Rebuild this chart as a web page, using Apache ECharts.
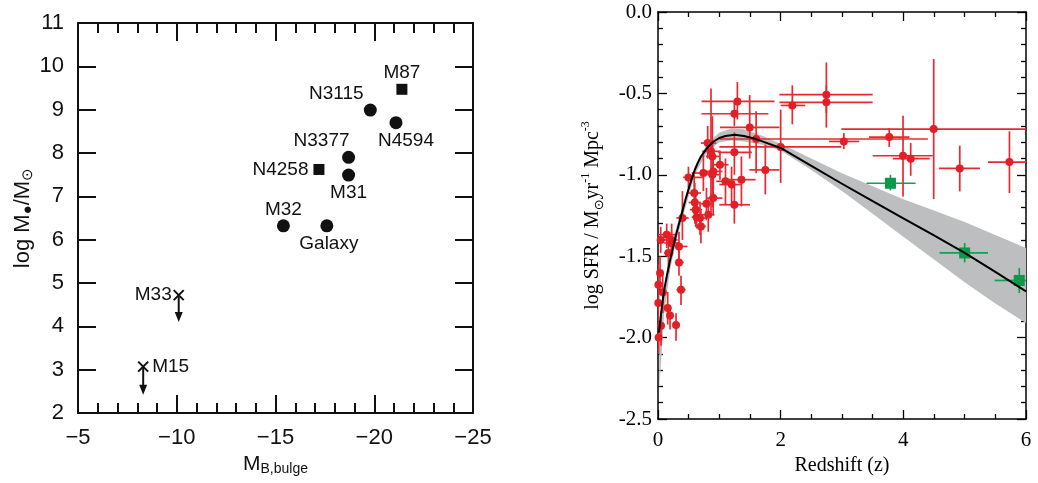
<!DOCTYPE html>
<html>
<head>
<meta charset="utf-8">
<title>Black hole mass vs bulge magnitude / cosmic star formation history</title>
<script src="https://cdn.jsdelivr.net/npm/echarts@6/dist/echarts.min.js"></script>
<style>
  html, body { margin: 0; padding: 0; background: #fff; }
  #chart { width: 1038px; height: 483px; }
</style>
</head>
<body>
<div id="chart"></div>
<script>
// ---- left panel: black hole mass vs bulge magnitude ----
const bhNames = ['M87', 'N3115', 'N4594', 'N3377', 'M31', 'N4258', 'M32', 'Galaxy']
const bhMag = [-21.4, -19.8, -21.1, -18.7, -18.7, -17.2, -15.4, -17.6]
const bhLogM = [9.47, 8.99, 8.70, 7.90, 7.49, 7.62, 6.32, 6.32]
const bhShape = ['rect', 'circle', 'circle', 'circle', 'circle', 'rect', 'circle', 'circle']

// upper limits (x marker with arrow down)
const limNames = ['M33', 'M15']
const limMag = [-10.1, -8.3]
const limLogM = [4.72, 3.07]
const limArrowTo = [4.1, 2.42]

// ---- right panel: cosmic SFR density vs redshift ----
// [z, logSFR, zMin, zMax, logSFRtop, logSFRbottom]
const sfrRed = [
  [1.294, -0.549, 0.71, 1.90, -0.43, -0.66],
  [1.245, -0.625, 0.71, 1.80, -0.55, -0.70],
  [1.495, -0.709, 1.01, 1.98, -0.51, -0.90],
  [1.60, -0.78, 1.00, 4.40, -0.61, -0.99],
  [2.00, -0.829, 1.00, 2.99, -0.60, -1.05],
  [1.75, -0.97, 1.49, 1.98, -0.815, -1.12],
  [1.36, -1.03, 1.09, 1.59, -0.887, -1.194],
  [2.19, -0.574, 2.00, 2.40, -0.45, -0.69],
  [2.745, -0.508, 1.98, 3.50, -0.31, -0.62],
  [2.745, -0.555, 1.98, 3.50, -0.45, -0.71],
  [3.03, -0.795, 2.79, 3.28, -0.743, -0.842],
  [3.77, -0.768, 3.44, 4.10, -0.713, -0.829],
  [3.995, -0.883, 3.50, 4.48, -0.637, -1.133],
  [4.12, -0.901, 3.83, 4.43, -0.805, -1.006],
  [4.495, -0.719, 2.99, 6.00, -0.289, -1.149],
  [4.92, -0.961, 4.58, 5.25, -0.821, -1.102],
  [5.73, -0.922, 5.38, 6.00, -0.733, -1.112],
  [0.81, -0.805, 0.70, 0.95, -0.70, -0.90],
  [0.864, -0.856, 0.72, 1.00, -0.47, -1.23],
  [1.245, -0.862, 0.98, 1.53, -0.74, -1.00],
  [0.887, -0.887, 0.78, 1.00, -0.64, -1.05],
  [1.01, -0.938, 0.90, 1.15, -0.85, -1.03],
  [0.74, -0.989, 0.55, 0.95, -0.88, -1.10],
  [0.90, -0.979, 0.75, 1.05, -0.85, -1.15],
  [0.887, -0.999, 0.80, 1.00, -0.80, -1.20],
  [0.496, -1.016, 0.41, 0.73, -0.95, -1.08],
  [1.10, -1.04, 0.95, 1.25, -0.90, -1.18],
  [1.20, -1.06, 1.00, 1.35, -0.95, -1.17],
  [0.59, -1.112, 0.48, 0.70, -1.00, -1.24],
  [0.90, -1.143, 0.80, 1.05, -1.05, -1.25],
  [0.60, -1.17, 0.50, 0.70, -1.05, -1.30],
  [0.79, -1.178, 0.70, 0.90, -1.08, -1.28],
  [1.245, -1.184, 1.00, 1.50, -1.07, -1.30],
  [0.615, -1.214, 0.52, 0.72, -1.12, -1.32],
  [0.82, -1.245, 0.72, 0.92, -1.15, -1.35],
  [0.685, -1.266, 0.58, 0.80, -1.17, -1.37],
  [0.63, -1.26, 0.55, 0.72, -1.18, -1.33],
  [0.70, -1.317, 0.62, 0.78, -1.22, -1.42],
  [0.398, -1.265, 0.30, 0.50, -1.10, -1.40],
  [0.142, -1.368, 0.00, 0.30, -1.30, -1.45],
  [0.044, -1.40, 0.00, 0.20, -1.32, -1.48],
  [0.223, -1.40, 0.12, 0.32, -1.30, -1.50],
  [0.218, -1.419, 0.10, 0.35, -1.35, -1.50],
  [0.342, -1.44, 0.28, 0.48, -1.35, -1.55],
  [0.17, -1.48, 0.10, 0.25, -1.35, -1.60],
  [0.342, -1.538, 0.28, 0.42, -1.45, -1.62],
  [0.033, -1.603, 0.00, 0.08, -1.50, -1.70],
  [0.006, -1.675, 0.00, 0.03, -1.55, -1.80],
  [0.375, -1.706, 0.30, 0.45, -1.62, -1.80],
  [0.077, -1.722, 0.02, 0.14, -1.60, -1.85],
  [0.005, -1.788, 0.00, 0.02, -1.70, -1.90],
  [0.158, -1.818, 0.10, 0.22, -1.72, -1.92],
  [0.196, -1.865, 0.14, 0.26, -1.80, -1.95],
  [0.294, -1.923, 0.24, 0.36, -1.85, -2.02],
  [0.049, -1.927, 0.00, 0.10, -1.85, -2.05],
  [0.01, -2.00, 0.00, 0.04, -1.90, -2.10],
]
const sfrGreen = [
  [3.79, -1.052, 3.40, 4.20, -1.000, -1.096],
  [5.00, -1.480, 4.59, 5.38, -1.419, -1.538],
  [5.89, -1.649, 5.49, 6.00, -1.572, -1.726],
]

// fitted curve and its uncertainty band
const fitZ = [0.016, 0.05, 0.1, 0.15, 0.2, 0.25, 0.3, 0.35, 0.4, 0.45, 0.5, 0.55, 0.6, 0.65, 0.7, 0.8, 0.9, 1.0, 1.1, 1.25, 1.4, 1.55, 1.7, 2.0, 2.5, 3.0, 3.5, 4.0, 4.5, 5.0, 5.5, 6.0]
const fitV = [-1.97, -1.85, -1.71, -1.61, -1.52, -1.44, -1.36, -1.29, -1.22, -1.15, -1.085, -1.025, -0.97, -0.925, -0.888, -0.835, -0.797, -0.774, -0.762, -0.754, -0.762, -0.775, -0.795, -0.835, -0.945, -1.055, -1.162, -1.268, -1.372, -1.48, -1.596, -1.716]
const bandZ = [0.02, 0.06, 0.1, 0.2, 0.3, 0.45, 0.6, 0.8, 1.0, 1.2, 1.4, 1.7, 2.0, 2.5, 3.0, 3.5, 4.0, 4.5, 5.0, 5.5, 6.0]
const bandHi = [-1.93, -1.80, -1.68, -1.48, -1.32, -1.13, -0.95, -0.81, -0.74, -0.715, -0.72, -0.76, -0.81, -0.90, -0.99, -1.07, -1.15, -1.22, -1.29, -1.37, -1.45]
const bandLo = [-2.32, -2.10, -1.85, -1.58, -1.40, -1.20, -1.00, -0.86, -0.80, -0.79, -0.795, -0.815, -0.85, -0.97, -1.10, -1.24, -1.38, -1.52, -1.66, -1.79, -1.91]

const sans = 'Liberation Sans'
const serif = 'Liberation Serif'
const ink = '#111111'
const red = '#e31e26'
const green = '#0a9a48'

// label placement for the named points (style only)
const bhLabelPos = {
  M87: { position: 'top', distance: 2 },
  N3115: { position: 'top', distance: 0, offset: [-34, 0] },
  N4594: { position: 'bottom', distance: 2, offset: [10, 0] },
  N3377: { position: 'top', distance: 1, offset: [-27, 0] },
  M31: { position: 'bottom', distance: 2 },
  N4258: { position: 'left', distance: 5 },
  M32: { position: 'top', distance: 0 },
  Galaxy: { position: 'bottom', distance: 2, offset: [2, 0] },
}
const limLabelSide = { M33: 'left', M15: 'right' }

function boxAxis(base, extra) {
  return Object.assign({}, base, extra)
}

const leftX = {
  type: 'value', gridIndex: 0, min: -25, max: -5, interval: 5, inverse: true,
  axisLine: { onZero: false, lineStyle: { color: ink, width: 2 } },
  axisTick: { inside: true, length: 18, lineStyle: { color: ink, width: 2 } },
  minorTick: { show: true, splitNumber: 5, length: 10, lineStyle: { color: ink, width: 2 } },
  splitLine: { show: false },
}
const leftY = {
  type: 'value', gridIndex: 0, min: 2, max: 11, interval: 1,
  axisLine: { onZero: false, lineStyle: { color: ink, width: 2 } },
  axisTick: { inside: true, length: 18, lineStyle: { color: ink, width: 2 } },
  splitLine: { show: false },
}
const rightX = {
  type: 'value', gridIndex: 1, min: 0, max: 6, interval: 2,
  axisLine: { onZero: false, lineStyle: { color: '#000', width: 1.5 } },
  axisTick: { inside: true, length: 9, lineStyle: { color: '#000', width: 1.3 } },
  minorTick: { show: true, splitNumber: 4, length: 5, lineStyle: { color: '#000', width: 1.3 } },
  splitLine: { show: false },
}
const rightY = {
  type: 'value', gridIndex: 1, min: -2.5, max: 0, interval: 0.5,
  axisLine: { onZero: false, lineStyle: { color: '#000', width: 1.5 } },
  axisTick: { inside: true, length: 9, lineStyle: { color: '#000', width: 1.3 } },
  minorTick: { show: true, splitNumber: 5, length: 5, lineStyle: { color: '#000', width: 1.3 } },
  splitLine: { show: false },
}

function errorBars(rows, color, width) {
  return {
    type: 'custom', xAxisIndex: 2, yAxisIndex: 2, z: 2, clip: true,
    data: rows,
    encode: { x: [0, 2, 3], y: [1, 4, 5] },
    renderItem: (params, api) => {
      const c = api.coord([api.value(0), api.value(1)])
      const l = api.coord([api.value(2), api.value(1)])
      const r = api.coord([api.value(3), api.value(1)])
      const t = api.coord([api.value(0), api.value(4)])
      const b = api.coord([api.value(0), api.value(5)])
      const style = { stroke: color, lineWidth: width }
      return {
        type: 'group',
        children: [
          { type: 'line', shape: { x1: l[0], y1: c[1], x2: r[0], y2: c[1] }, style },
          { type: 'line', shape: { x1: c[0], y1: t[1], x2: c[0], y2: b[1] }, style },
        ],
      }
    },
  }
}

const chart = echarts.init(document.getElementById('chart'), null, { renderer: 'canvas' })

chart.setOption({
  backgroundColor: '#fff',
  animation: false,
  grid: [
    { left: 78, top: 23, width: 395, height: 390 },
    { left: 658, top: 12, width: 368, height: 407 },
  ],
  xAxis: [
    boxAxis(leftX, {
      position: 'bottom',
      name: 'M{s|B,bulge}', nameLocation: 'middle', nameGap: 36,
      nameTextStyle: {
        fontFamily: sans, fontSize: 21, color: ink,
        rich: { s: { fontFamily: sans, fontSize: 14, color: ink, verticalAlign: 'bottom', padding: [10, 0, 0, 0] } },
      },
      axisLabel: {
        margin: 14, fontFamily: sans, fontSize: 22, color: ink,
        formatter: (v) => (v < 0 ? '\u2212' + (-v) : String(v)),
      },
    }),
    boxAxis(leftX, { position: 'top', axisLabel: { show: false } }),
    boxAxis(rightX, {
      position: 'bottom',
      name: 'Redshift (z)', nameLocation: 'middle', nameGap: 34,
      nameTextStyle: { fontFamily: serif, fontSize: 20, color: '#000' },
      axisLabel: { margin: 11, fontFamily: serif, fontSize: 21, color: '#000' },
    }),
    boxAxis(rightX, { position: 'top', axisLabel: { show: false } }),
  ],
  yAxis: [
    boxAxis(leftY, {
      position: 'left',
      name: 'log M{s|●}/M{s|⊙}', nameLocation: 'middle', nameGap: 40,
      nameTextStyle: {
        fontFamily: sans, fontSize: 22, color: ink,
        rich: { s: { fontFamily: sans, fontSize: 15, color: ink, verticalAlign: 'bottom', padding: [10, 0, 0, 0] } },
      },
      axisLabel: { margin: 14, fontFamily: sans, fontSize: 22, color: ink },
    }),
    boxAxis(leftY, { position: 'right', axisLabel: { show: false } }),
    boxAxis(rightY, {
      position: 'left',
      name: 'log SFR / M{s|⊙}yr{p|-1} Mpc{p|-3}', nameLocation: 'middle', nameGap: 52,
      nameTextStyle: {
        fontFamily: serif, fontSize: 20, color: '#000', lineHeight: 26,
        rich: {
          s: { fontFamily: 'DejaVu Sans', fontSize: 13, color: '#000', verticalAlign: 'bottom', padding: [8, 0, 0, 0] },
          p: { fontFamily: serif, fontSize: 12, color: '#000', verticalAlign: 'top', lineHeight: 14 },
        },
      },
      axisLabel: {
        margin: 6, fontFamily: serif, fontSize: 21, color: '#000',
        formatter: (v) => v.toFixed(1),
      },
    }),
    boxAxis(rightY, { position: 'right', axisLabel: { show: false } }),
  ],
  series: [
    // left: measured black hole masses
    {
      type: 'scatter', xAxisIndex: 0, yAxisIndex: 0,
      itemStyle: { color: ink, opacity: 1 },
      label: { show: true, formatter: '{b}', fontFamily: sans, fontSize: 19, color: ink, opacity: 1 },
      data: bhNames.map((n, i) => ({
        name: n,
        value: [bhMag[i], bhLogM[i]],
        symbol: bhShape[i],
        symbolSize: bhShape[i] === 'rect' ? 11 : 13,
        label: bhLabelPos[n],
      })),
    },
    // left: upper limits
    {
      type: 'custom', xAxisIndex: 0, yAxisIndex: 0,
      data: limNames.map((n, i) => [limMag[i], limLogM[i], limArrowTo[i]]),
      renderItem: (params, api) => {
        const c = api.coord([api.value(0), api.value(1)])
        const e = api.coord([api.value(0), api.value(2)])
        const name = limNames[params.dataIndex]
        const left = limLabelSide[name] === 'left'
        const s = 5
        const st = { stroke: ink, lineWidth: 2 }
        return {
          type: 'group',
          children: [
            { type: 'line', shape: { x1: c[0] - s, y1: c[1] - s, x2: c[0] + s, y2: c[1] + s }, style: st },
            { type: 'line', shape: { x1: c[0] - s, y1: c[1] + s, x2: c[0] + s, y2: c[1] - s }, style: st },
            { type: 'line', shape: { x1: c[0], y1: c[1], x2: c[0], y2: e[1] - 6 }, style: st },
            { type: 'polygon', shape: { points: [[c[0] - 4, e[1] - 10], [c[0] + 4, e[1] - 10], [c[0], e[1]]] }, style: { fill: ink } },
            {
              type: 'text', x: left ? c[0] - 7 : c[0] + 9, y: c[1],
              style: { text: name, align: left ? 'right' : 'left', verticalAlign: 'middle', font: '19px "Liberation Sans"', fill: ink },
            },
          ],
        }
      },
    },
    // right: uncertainty band of the fit
    {
      type: 'custom', xAxisIndex: 2, yAxisIndex: 2, z: 1, clip: true,
      data: [[bandZ[0], bandHi[0]]],
      renderItem: (params, api) => {
        const pts = []
        for (let i = 0; i < bandZ.length; i++) pts.push(api.coord([bandZ[i], bandHi[i]]))
        for (let i = bandZ.length - 1; i >= 0; i--) pts.push(api.coord([bandZ[i], bandLo[i]]))
        return { type: 'polygon', shape: { points: pts }, style: { fill: '#bcbec0' } }
      },
    },
    errorBars(sfrRed, '#e62a31', 1.7),
    errorBars(sfrGreen, '#12a150', 1.7),
    {
      type: 'scatter', xAxisIndex: 2, yAxisIndex: 2, z: 3,
      symbol: 'circle', symbolSize: 8,
      itemStyle: { color: red, opacity: 1 },
      data: sfrRed.map((r) => [r[0], r[1]]),
    },
    {
      type: 'scatter', xAxisIndex: 2, yAxisIndex: 2, z: 3,
      symbol: 'rect', symbolSize: 11,
      itemStyle: { color: green, opacity: 1 },
      data: sfrGreen.map((r) => [r[0], r[1]]),
    },
    {
      type: 'line', xAxisIndex: 2, yAxisIndex: 2, z: 4,
      smooth: false, showSymbol: false,
      lineStyle: { color: '#000', width: 2, join: 'round' },
      data: fitZ.map((z, i) => [z, fitV[i]]),
    },
  ],
})
</script>
</body>
</html>
